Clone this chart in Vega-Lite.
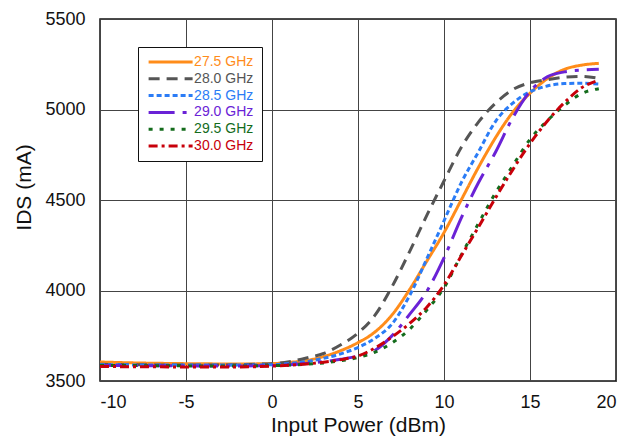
{
  "$schema": "https://vega.github.io/schema/vega-lite/v6.json",
  "width": 516,
  "height": 362,
  "autosize": {"type": "none"},
  "padding": {"left": 100, "top": 19, "right": 14, "bottom": 63},
  "background": "white",
  "config": {
    "font": "Liberation Sans",
    "view": {"stroke": "#111", "strokeWidth": 1.5},
    "axis": {
      "grid": true, "gridColor": "#444", "gridWidth": 1, "gridOpacity": 1,
      "domain": false, "ticks": false,
      "labelFont": "Liberation Sans", "labelFontSize": 18, "labelColor": "#111",
      "titleFont": "Liberation Sans", "titleFontSize": 20, "titleFontWeight": "normal", "titleColor": "#111"
    }
  },
  "data": {"values": [
    {"f":"27.5 GHz","p":-10,"ids":3605},{"f":"27.5 GHz","p":-8,"ids":3600},{"f":"27.5 GHz","p":-6,"ids":3597},{"f":"27.5 GHz","p":-4,"ids":3595},{"f":"27.5 GHz","p":-2,"ids":3594},{"f":"27.5 GHz","p":0,"ids":3596},{"f":"27.5 GHz","p":1,"ids":3603},{"f":"27.5 GHz","p":2,"ids":3613},{"f":"27.5 GHz","p":3,"ids":3635},{"f":"27.5 GHz","p":4,"ids":3668},{"f":"27.5 GHz","p":5,"ids":3712},{"f":"27.5 GHz","p":6,"ids":3772},{"f":"27.5 GHz","p":7,"ids":3868},{"f":"27.5 GHz","p":8,"ids":4005},{"f":"27.5 GHz","p":9,"ids":4162},{"f":"27.5 GHz","p":10,"ids":4320},{"f":"27.5 GHz","p":11,"ids":4500},{"f":"27.5 GHz","p":12,"ids":4680},{"f":"27.5 GHz","p":13,"ids":4845},{"f":"27.5 GHz","p":14,"ids":4985},{"f":"27.5 GHz","p":15,"ids":5090},{"f":"27.5 GHz","p":16,"ids":5170},{"f":"27.5 GHz","p":17,"ids":5222},{"f":"27.5 GHz","p":18,"ids":5245},{"f":"27.5 GHz","p":19,"ids":5255},
    {"f":"28.0 GHz","p":-10,"ids":3592},{"f":"28.0 GHz","p":-8,"ids":3590},{"f":"28.0 GHz","p":-6,"ids":3588},{"f":"28.0 GHz","p":-4,"ids":3588},{"f":"28.0 GHz","p":-2,"ids":3590},{"f":"28.0 GHz","p":0,"ids":3596},{"f":"28.0 GHz","p":1,"ids":3607},{"f":"28.0 GHz","p":2,"ids":3627},{"f":"28.0 GHz","p":3,"ids":3652},{"f":"28.0 GHz","p":4,"ids":3700},{"f":"28.0 GHz","p":5,"ids":3765},{"f":"28.0 GHz","p":6,"ids":3865},{"f":"28.0 GHz","p":7,"ids":4025},{"f":"28.0 GHz","p":8,"ids":4215},{"f":"28.0 GHz","p":9,"ids":4415},{"f":"28.0 GHz","p":10,"ids":4605},{"f":"28.0 GHz","p":11,"ids":4790},{"f":"28.0 GHz","p":12,"ids":4930},{"f":"28.0 GHz","p":13,"ids":5035},{"f":"28.0 GHz","p":14,"ids":5110},{"f":"28.0 GHz","p":15,"ids":5148},{"f":"28.0 GHz","p":16,"ids":5165},{"f":"28.0 GHz","p":17,"ids":5178},{"f":"28.0 GHz","p":18,"ids":5183},{"f":"28.0 GHz","p":19,"ids":5172},
    {"f":"28.5 GHz","p":-10,"ids":3590},{"f":"28.5 GHz","p":-8,"ids":3589},{"f":"28.5 GHz","p":-6,"ids":3588},{"f":"28.5 GHz","p":-4,"ids":3588},{"f":"28.5 GHz","p":-2,"ids":3588},{"f":"28.5 GHz","p":0,"ids":3590},{"f":"28.5 GHz","p":1,"ids":3597},{"f":"28.5 GHz","p":2,"ids":3607},{"f":"28.5 GHz","p":3,"ids":3625},{"f":"28.5 GHz","p":4,"ids":3650},{"f":"28.5 GHz","p":5,"ids":3685},{"f":"28.5 GHz","p":6,"ids":3737},{"f":"28.5 GHz","p":7,"ids":3818},{"f":"28.5 GHz","p":8,"ids":3972},{"f":"28.5 GHz","p":9,"ids":4175},{"f":"28.5 GHz","p":10,"ids":4385},{"f":"28.5 GHz","p":11,"ids":4595},{"f":"28.5 GHz","p":12,"ids":4765},{"f":"28.5 GHz","p":13,"ids":4935},{"f":"28.5 GHz","p":14,"ids":5035},{"f":"28.5 GHz","p":15,"ids":5098},{"f":"28.5 GHz","p":16,"ids":5130},{"f":"28.5 GHz","p":17,"ids":5143},{"f":"28.5 GHz","p":18,"ids":5145},{"f":"28.5 GHz","p":19,"ids":5140},
    {"f":"29.0 GHz","p":-10,"ids":3585},{"f":"29.0 GHz","p":-8,"ids":3585},{"f":"29.0 GHz","p":-6,"ids":3584},{"f":"29.0 GHz","p":-4,"ids":3583},{"f":"29.0 GHz","p":-2,"ids":3583},{"f":"29.0 GHz","p":0,"ids":3585},{"f":"29.0 GHz","p":1,"ids":3590},{"f":"29.0 GHz","p":2,"ids":3597},{"f":"29.0 GHz","p":3,"ids":3607},{"f":"29.0 GHz","p":4,"ids":3620},{"f":"29.0 GHz","p":5,"ids":3638},{"f":"29.0 GHz","p":6,"ids":3670},{"f":"29.0 GHz","p":7,"ids":3752},{"f":"29.0 GHz","p":8,"ids":3868},{"f":"29.0 GHz","p":9,"ids":3995},{"f":"29.0 GHz","p":10,"ids":4180},{"f":"29.0 GHz","p":11,"ids":4400},{"f":"29.0 GHz","p":12,"ids":4595},{"f":"29.0 GHz","p":13,"ids":4765},{"f":"29.0 GHz","p":14,"ids":4955},{"f":"29.0 GHz","p":15,"ids":5100},{"f":"29.0 GHz","p":16,"ids":5180},{"f":"29.0 GHz","p":17,"ids":5208},{"f":"29.0 GHz","p":18,"ids":5218},{"f":"29.0 GHz","p":19,"ids":5222},
    {"f":"29.5 GHz","p":-10,"ids":3585},{"f":"29.5 GHz","p":-8,"ids":3585},{"f":"29.5 GHz","p":-6,"ids":3584},{"f":"29.5 GHz","p":-4,"ids":3583},{"f":"29.5 GHz","p":-2,"ids":3583},{"f":"29.5 GHz","p":0,"ids":3585},{"f":"29.5 GHz","p":1,"ids":3588},{"f":"29.5 GHz","p":2,"ids":3593},{"f":"29.5 GHz","p":3,"ids":3600},{"f":"29.5 GHz","p":4,"ids":3612},{"f":"29.5 GHz","p":5,"ids":3630},{"f":"29.5 GHz","p":6,"ids":3660},{"f":"29.5 GHz","p":7,"ids":3712},{"f":"29.5 GHz","p":8,"ids":3786},{"f":"29.5 GHz","p":9,"ids":3892},{"f":"29.5 GHz","p":10,"ids":4015},{"f":"29.5 GHz","p":11,"ids":4195},{"f":"29.5 GHz","p":12,"ids":4370},{"f":"29.5 GHz","p":13,"ids":4540},{"f":"29.5 GHz","p":14,"ids":4690},{"f":"29.5 GHz","p":15,"ids":4835},{"f":"29.5 GHz","p":16,"ids":4938},{"f":"29.5 GHz","p":17,"ids":5022},{"f":"29.5 GHz","p":18,"ids":5088},{"f":"29.5 GHz","p":19,"ids":5115},
    {"f":"30.0 GHz","p":-10,"ids":3580},{"f":"30.0 GHz","p":-8,"ids":3579},{"f":"30.0 GHz","p":-6,"ids":3578},{"f":"30.0 GHz","p":-4,"ids":3578},{"f":"30.0 GHz","p":-2,"ids":3578},{"f":"30.0 GHz","p":0,"ids":3582},{"f":"30.0 GHz","p":1,"ids":3587},{"f":"30.0 GHz","p":2,"ids":3594},{"f":"30.0 GHz","p":3,"ids":3604},{"f":"30.0 GHz","p":4,"ids":3618},{"f":"30.0 GHz","p":5,"ids":3638},{"f":"30.0 GHz","p":6,"ids":3683},{"f":"30.0 GHz","p":7,"ids":3745},{"f":"30.0 GHz","p":8,"ids":3818},{"f":"30.0 GHz","p":9,"ids":3908},{"f":"30.0 GHz","p":10,"ids":4030},{"f":"30.0 GHz","p":11,"ids":4190},{"f":"30.0 GHz","p":12,"ids":4350},{"f":"30.0 GHz","p":13,"ids":4512},{"f":"30.0 GHz","p":14,"ids":4668},{"f":"30.0 GHz","p":15,"ids":4812},{"f":"30.0 GHz","p":16,"ids":4935},{"f":"30.0 GHz","p":17,"ids":5038},{"f":"30.0 GHz","p":18,"ids":5120},{"f":"30.0 GHz","p":19,"ids":5162}
  ]},
  "mark": {"type": "line", "strokeWidth": 3, "interpolate": "monotone", "strokeCap": "butt"},
  "encoding": {
    "x": {
      "field": "p", "type": "quantitative",
      "scale": {"domain": [-10, 20], "nice": false, "zero": false},
      "axis": {"values": [-10, -5, 0, 5, 10, 15, 20], "labelExpr": "'' + datum.value", "title": "Input Power (dBm)", "titleFontSize": 21, "labelPadding": 12, "titlePadding": 3}
    },
    "y": {
      "field": "ids", "type": "quantitative",
      "scale": {"domain": [3500, 5500], "nice": false, "zero": false},
      "axis": {"values": [3500, 4000, 4500, 5000, 5500], "format": "d", "title": "IDS (mA)", "titleFontSize": 21, "labelPadding": 15, "titleX": -76, "titleY": 168, "titleBaseline": "middle", "titleAngle": -90}
    },
    "color": {
      "field": "f", "type": "nominal",
      "scale": {"domain": ["27.5 GHz", "28.0 GHz", "28.5 GHz", "29.0 GHz", "29.5 GHz", "30.0 GHz"],
                "range": ["#FF8C1A", "#555555", "#2B7CF6", "#6A22D6", "#146C1C", "#C8000A"]},
      "legend": {
        "title": null, "orient": "none", "legendX": 38, "legendY": 28,
        "fillColor": "white", "strokeColor": "#111", "padding": 8, "cornerRadius": 0,
        "symbolType": "M-5,0H5", "symbolSize": 77.4, "symbolStrokeWidth": 3, "symbolOffset": 17.6,
        "labelFont": "Liberation Sans", "labelFontSize": 14, "labelOffset": 16.5, "rowPadding": 2.8,
        "encode": {"labels": {"update": {"fill": {"scale": "color", "field": "value"}}}}
      }
    },
    "strokeDash": {
      "field": "f", "type": "nominal",
      "scale": {"domain": ["27.5 GHz", "28.0 GHz", "28.5 GHz", "29.0 GHz", "29.5 GHz", "30.0 GHz"],
                "range": [[1, 0], [11, 7], [5, 3], [26, 8, 4, 8], [4, 7], [9, 4, 3, 4]]},
      "legend": {
        "title": null, "orient": "none", "legendX": 38, "legendY": 28,
        "fillColor": "white", "strokeColor": "#111", "padding": 8, "cornerRadius": 0,
        "symbolType": "M-5,0H5", "symbolSize": 77.4, "symbolStrokeWidth": 3, "symbolOffset": 17.6,
        "labelFont": "Liberation Sans", "labelFontSize": 14, "labelOffset": 16.5, "rowPadding": 2.8,
        "encode": {"labels": {"update": {"fill": {"scale": "color", "field": "value"}}}}
      }
    }
  }
}
